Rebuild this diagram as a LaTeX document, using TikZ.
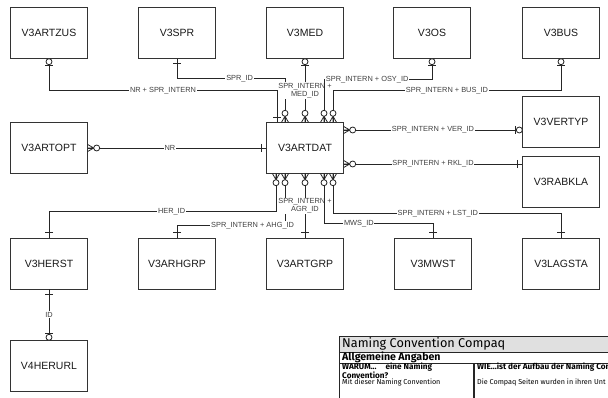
\documentclass[tikz,border=0pt]{standalone}
\usepackage{fontspec}
\setmainfont{Liberation Sans}
\newfontfamily\tabfont{Fira Sans}
\usetikzlibrary{positioning}

\begin{document}
\begin{tikzpicture}[
        x=1pt, y=-1pt,
        entity/.style={draw=black!80, minimum width=77pt, minimum height=51pt, inner sep=0pt, text=black!90, font=\fontsize{10.5}{12}\selectfont},
        lbl/.style={fill=white, inner sep=0.8pt, text=black!75, align=center, font=\fontsize{7.4}{8}\selectfont},
        rel/.style={draw=black!85, line width=0.8pt},
        manyopt/.pic={\draw[rel] (-3.5,0) -- (0,6) -- (3.5,0) (0,0) -- (0,6); \draw[rel, fill=white] (0,9) circle[radius=3];},
        oneopt/.pic={\draw[rel, fill=white] (0,3) circle[radius=3]; \draw[rel] (-4,7) -- (4,7);},
        one/.pic={\draw[rel] (-4,5) -- (4,5);}
    ]
    \useasboundingbox (0,0) rectangle (608,398);

    % top row
    \node[entity] (zus) at (49,33) {V3ARTZUS};
    \node[entity] (spr) at (177,33) {V3SPR};
    \node[entity] (med) at (305,33) {V3MED};
    \node[entity] (os) at (432,33) {V3OS};
    \node[entity] (bus) at (561,33) {V3BUS};
    % middle
    \node[entity] (artopt) at (49,148) {V3ARTOPT};
    \node[entity] (dat) at (305,148) {V3ARTDAT};
    \node[entity] (vertyp) at (561,122) {V3VERTYP};
    \node[entity] (rabkla) at (561,181.5) {V3RABKLA};
    % bottom row
    \node[entity] (herst) at (49,263.5) {V3HERST};
    \node[entity] (arhgrp) at (177,263.5) {V3ARHGRP};
    \node[entity] (artgrp) at (305,263.5) {V3ARTGRP};
    \node[entity] (mwst) at (433,263.5) {V3MWST};
    \node[entity] (lagsta) at (561,263.5) {V3LAGSTA};
    \node[entity] (herurl) at (49,366) {V4HERURL};

    % relations above V3ARTDAT
    \draw[rel] (zus.south) -- ++(0,31.5) -| ([xshift=-28pt]dat.north) node[lbl, pos=0.25] {NR + SPR\_INTERN};
    \draw[rel] (spr.south) -- ++(0,19.5) -| ([xshift=-20pt]dat.north) node[lbl, pos=0.29] {SPR\_ID};
    \draw[rel] (med.south) -- (dat.north) node[lbl, midway] {SPR\_INTERN +\\MED\_ID};
    \draw[rel] (os.south) -- ++(0,20.5) -| ([xshift=19pt]dat.north) node[lbl, pos=0.3] {SPR\_INTERN + OSY\_ID};
    \draw[rel] (bus.south) -- ++(0,31.5) -| ([xshift=28pt]dat.north) node[lbl, pos=0.25] {SPR\_INTERN + BUS\_ID};

    % left and right
    \coordinate (v1) at ([yshift=18pt]dat.east);
    \coordinate (r1) at ([yshift=-16pt]dat.east);
    \draw[rel] (v1) -- (v1 -| vertyp.west) node[lbl, midway] {SPR\_INTERN + VER\_ID};
    \draw[rel] (r1) -- (r1 -| rabkla.west) node[lbl, midway] {SPR\_INTERN + RKL\_ID};
    \draw[rel] (artopt.east) -- (dat.west) node[lbl, pos=0.46] {NR};

    % relations below V3ARTDAT
    \draw[rel] ([xshift=-29pt]dat.south) -- ++(0,37.5) -| (herst.north) node[lbl, pos=0.23] {HER\_ID};
    \draw[rel] ([xshift=-20pt]dat.south) -- ++(0,51.5) -| (arhgrp.north) node[lbl, pos=0.15] {SPR\_INTERN + AHG\_ID};
    \draw[rel] (dat.south) -- (artgrp.north) node[lbl, midway] {SPR\_INTERN +\\AGR\_ID};
    \draw[rel] ([xshift=19pt]dat.south) -- ++(0,49.5) -| (mwst.north) node[lbl, pos=0.16] {MWS\_ID};
    \draw[rel] ([xshift=28pt]dat.south) -- ++(0,39.5) -| (lagsta.north) node[lbl, pos=0.23] {SPR\_INTERN + LST\_ID};
    \draw[rel] (herst.south) -- (herurl.north) node[lbl, midway] {ID};

    % line ends
    \foreach \e in {zus,med,os,bus} {\pic at (\e.south) {oneopt};}
    \pic at (spr.south) {one};
    \pic[rotate=180] at ([xshift=-28pt]dat.north) {one};
    \foreach \dx in {-20,0,19,28} {\pic[rotate=180] at ([xshift=\dx pt]dat.north) {manyopt};}
    \foreach \dx in {-29,-20,0,19,28} {\pic at ([xshift=\dx pt]dat.south) {manyopt};}
    \foreach \e in {herst,arhgrp,artgrp,mwst,lagsta} {\pic[rotate=180] at (\e.north) {one};}
    \pic[rotate=90] at (v1) {manyopt};
    \pic[rotate=90] at (r1) {manyopt};
    \pic[rotate=90] at (artopt.east) {manyopt};
    \pic[rotate=-90] at (v1 -| vertyp.west) {oneopt};
    \pic[rotate=-90] at (r1 -| rabkla.west) {one};
    \pic[rotate=-90] at (dat.west) {one};
    \pic at (herst.south) {one};
    \pic[rotate=180] at (herurl.north) {oneopt};

    % naming convention sheet
    \begin{scope}
        \clip (0,0) rectangle (608,398);
        \fill[black!12] (339,336) rectangle (640,352);
        \draw[black!85] (339,336) rectangle (640,410);
        \draw[black!85] (339,352) -- (640,352);
        \draw[black!85] (339,363) -- (640,363);
        \draw[black!85, line width=1.2pt] (474,363) -- (474,410);
        \node[anchor=west, inner sep=0pt, font=\tabfont\fontsize{12.7}{14}\selectfont] (hdr) at (342,344) {Naming Convention Compaq};
        \node[anchor=west, inner sep=0pt, font=\tabfont\bfseries\fontsize{10.6}{12}\selectfont] (sect) at (342,357.5) {Allgemeine Angaben};
        \node[anchor=west, inner sep=0pt, font=\tabfont\bfseries\fontsize{8.2}{9}\selectfont] (why1) at (342,367.5) {WARUM...\hspace{9pt}eine Naming};
        \node[anchor=west, inner sep=0pt, font=\tabfont\bfseries\fontsize{8.2}{9}\selectfont] (why2) at (342,375) {Convention?};
        \node[anchor=west, inner sep=0pt, font=\tabfont\fontsize{7.2}{8}\selectfont] (why3) at (342,382.5) {Mit dieser Naming Convention};
        \node[anchor=west, inner sep=0pt, font=\tabfont\bfseries\fontsize{8.2}{9}\selectfont] (how1) at (477,367.5) {WIE...ist der Aufbau der Naming Conv};
        \node[anchor=west, inner sep=0pt, font=\tabfont\fontsize{7.2}{8}\selectfont] (how2) at (477,382.5) {Die Compaq Seiten wurden in ihren Unt};
    \end{scope}
\end{tikzpicture}
\end{document}
